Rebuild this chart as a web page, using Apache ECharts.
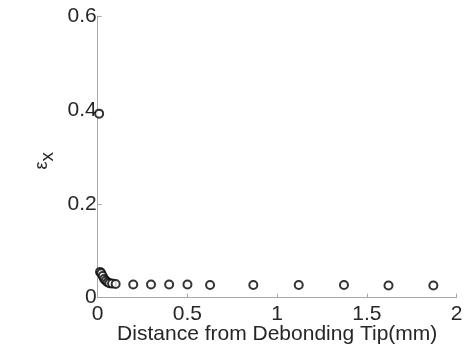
<!DOCTYPE html>
<html><head><meta charset="utf-8">
<script src="https://cdn.jsdelivr.net/npm/echarts@6/dist/echarts.min.js"></script>
<style>html,body{margin:0;padding:0;background:#fff}#c{width:465px;height:349px}</style>
</head><body><div id="c"></div>
<script>
var xValues = [0.008, 0.013, 0.02, 0.028, 0.036, 0.045, 0.055, 0.065, 0.08, 0.1, 0.198, 0.297, 0.398, 0.5, 0.626, 0.867, 1.12, 1.372, 1.62, 1.87];
var yValues = [0.392, 0.055, 0.052, 0.046, 0.04, 0.036, 0.033, 0.031, 0.03, 0.029, 0.028, 0.028, 0.028, 0.028, 0.027, 0.027, 0.027, 0.027, 0.026, 0.026];
var xTicks = [0, 0.5, 1, 1.5, 2];
var yTicks = [0, 0.2, 0.4, 0.6];

var data = xValues.map(function(x, i){ return [x, yValues[i]]; });
var chart = echarts.init(document.getElementById('c'), null, {renderer:'canvas'});
var font = 'Liberation Sans, Arial, sans-serif';
chart.setOption({
  animation: false,
  grid: {left: 97.7, right: 8.3, top: 16, bottom: 51.3, outerBoundsMode: 'none', containLabel: false},
  xAxis: {
    type: 'value', min: xTicks[0], max: xTicks[xTicks.length-1], interval: 0.5,
    axisLine: {lineStyle: {color: '#a8a8a8', width: 1}},
    axisTick: {inside: true, length: 4, lineStyle: {color: '#a8a8a8'}},
    splitLine: {show: false},
    axisLabel: {color: '#262626', fontSize: 21, fontFamily: font, margin: 6,
      formatter: function(v){ return String(v); }},
    name: 'Distance from Debonding Tip(mm)', nameLocation: 'middle', nameGap: 26, nameMoveOverlap: false,
    nameTextStyle: {color: '#262626', fontSize: 21, fontFamily: font}
  },
  yAxis: {
    type: 'value', min: yTicks[0], max: yTicks[yTicks.length-1], interval: 0.2,
    axisLine: {show: true, lineStyle: {color: '#a8a8a8', width: 1}},
    axisTick: {show: true, inside: true, length: 4, lineStyle: {color: '#a8a8a8'}},
    splitLine: {show: false},
    axisLabel: {color: '#262626', fontSize: 21, fontFamily: font, margin: 1,
      formatter: function(v){ return String(v); }},
    name: '{e|ε}{x|x}', nameLocation: 'middle', nameGap: 40, nameRotate: 90, nameMoveOverlap: false,
    nameTextStyle: {color: '#262626', fontFamily: font,
      rich: {e: {fontSize: 18, fontFamily: font, color: '#262626', verticalAlign: 'bottom', padding:[0,0,7,0]},
             x: {fontSize: 19, fontFamily: font, color: '#262626', verticalAlign: 'bottom', padding:[0,8,0,0]}}}
  },
  series: [{
    type: 'scatter', data: data, symbol: 'emptyCircle', symbolSize: 8,
    itemStyle: {color: '#000', borderColor: '#000', borderWidth: 2.2}
  }]
});
</script></body></html>
